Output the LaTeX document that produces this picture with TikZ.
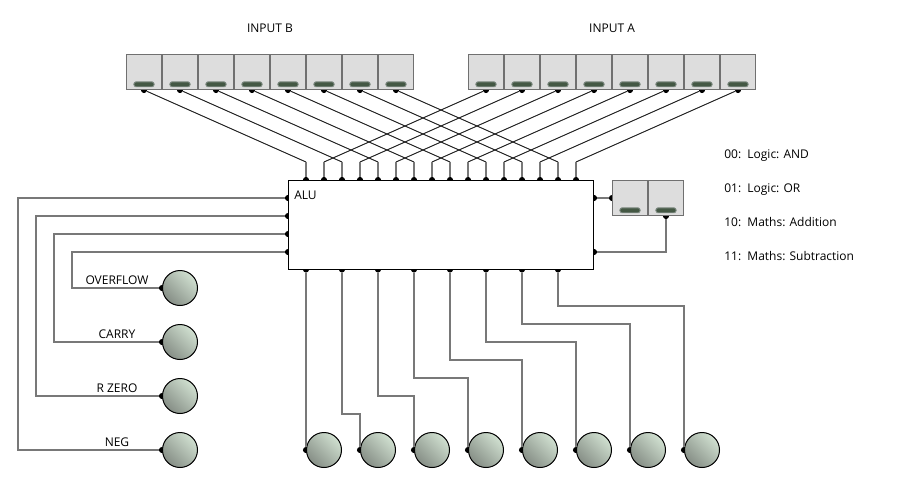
\documentclass[tikz,border=0pt]{standalone}
\usepackage{fontspec}
\setmainfont{Open Sans}
\definecolor{switchgray}{HTML}{DDDDDD}
\definecolor{switchedge}{HTML}{707070}
\definecolor{slotgreen}{HTML}{445844}
\definecolor{slotedge}{HTML}{7E8A82}
\definecolor{ledlight}{HTML}{D0E0D0}
\definecolor{ledmid}{HTML}{BECBBE}
\definecolor{leddark}{HTML}{868E86}
\definecolor{wiregray}{HTML}{787878}

\begin{document}
\begin{tikzpicture}[x=0.75pt,y=-0.75pt]
    % Setup the styles for the parts
        \tikzset{switchbox/.style={rectangle,
                                   minimum width=26.625pt,
                                   minimum height=26.25pt,
                                   inner sep=0pt,
                                   line width=0.75pt,
                                   draw=switchedge,
                                   fill=switchgray},
                 slotbar/.style={rectangle,
                                 rounded corners=1.7pt,
                                 minimum width=15.2pt,
                                 minimum height=3.7pt,
                                 inner sep=0pt,
                                 line width=0.7pt,
                                 draw=slotedge,
                                 fill=slotgreen},
                 lamp/.style={circle,
                              minimum size=26.25pt,
                              inner sep=0pt,
                              line width=0.75pt,
                              draw=black,
                              left color=ledlight,
                              middle color=ledmid,
                              right color=leddark,
                              shading angle=-45},
                 pinhead/.style={circle,
                                 minimum size=4.6pt,
                                 inner sep=0pt,
                                 fill=black},
                 wire/.style={line width=1.1pt,draw=wiregray,line join=miter},
                 slant/.style={line width=0.75pt,draw=black!85},
                 caption/.style={font=\fontsize{9}{11}\selectfont,inner sep=0pt,anchor=base},
                 legend/.style={caption,anchor=base west}}
        \useasboundingbox (0,0) rectangle (900,486);
        % Draw the pins first, the boxes cover half of them
        \foreach \i in {0,...,7} {
            \node[pinhead] at (144+36*\i,90)  (bout\i) {};
            \node[pinhead] at (486+36*\i,90)  (aout\i) {};
            \node[pinhead] at (306+36*\i,180) (bin\i)  {};
            \node[pinhead] at (324+36*\i,180) (ain\i)  {};
            \node[pinhead] at (306+36*\i,269.5) (res\i) {};
            \node[pinhead] at (306+54*\i,450) (lampin\i) {};
        }
        \foreach \i/\y in {0/198,1/216,2/234,3/252} {
            \node[pinhead] at (288,\y) (flag\i) {};
        }
        \foreach \i/\y in {0/450,1/396,2/342,3/288} {
            \node[pinhead] at (162,\y) (flagin\i) {};
        }
        \node[pinhead] at (594,198) (opa) {};
        \node[pinhead] at (594,252) (opb) {};
        \node[pinhead] at (612,198) (modea) {};
        \node[pinhead] at (666,216) (modeb) {};
        % Draw the switches
        \foreach \i in {0,...,7} {
            \node[switchbox] at (144+36*\i,72) (bsw\i) {};
            \node[slotbar] at (144+36*\i,84.3) (bslot\i) {};
            \node[switchbox] at (486+36*\i,72) (asw\i) {};
            \node[slotbar] at (486+36*\i,84.3) (aslot\i) {};
        }
        \node[switchbox] at (630,198) (msw0) {};
        \node[slotbar] at (630,210.3) (mslot0) {};
        \node[switchbox] at (666,198) (msw1) {};
        \node[slotbar] at (666,210.3) (mslot1) {};
        % Draw the ALU and the lamps
        \node[rectangle,draw=black,line width=0.75pt,fill=white,
              minimum width=228.75pt,minimum height=66.75pt,inner sep=0pt]
            at (441,225) (alu) {};
        \foreach \i in {0,...,7} {
            \node[lamp] at (324+54*\i,450) (reslamp\i) {};
        }
        \node[lamp] at (180,288) (overflow) {};
        \node[lamp] at (180,342) (carry) {};
        \node[lamp] at (180,396) (rzero) {};
        \node[lamp] at (180,450) (neg) {};
        % Connect the pins
        \foreach \i in {0,...,7} {
            \draw[slant] (bout\i) -- (306+36*\i,162);
            \draw[wire] (306+36*\i,162) -- (bin\i);
            \draw[slant] (aout\i) -- (324+36*\i,162);
            \draw[wire] (324+36*\i,162) -- (ain\i);
        }
        \draw[wire] (flag0) -- (18,198) -- (18,450) -- (flagin0);
        \draw[wire] (flag1) -- (36,216) -- (36,396) -- (flagin1);
        \draw[wire] (flag2) -- (54,234) -- (54,342) -- (flagin2);
        \draw[wire] (flag3) -- (72,252) -- (72,288) -- (flagin3);
        \draw[wire] (res0) -- (lampin0);
        \draw[wire] (res1) -- (342,414) -- (360,414) -- (lampin1);
        \draw[wire] (res2) -- (378,396) -- (414,396) -- (lampin2);
        \draw[wire] (res3) -- (414,378) -- (468,378) -- (lampin3);
        \draw[wire] (res4) -- (450,360) -- (522,360) -- (lampin4);
        \draw[wire] (res5) -- (486,342) -- (576,342) -- (lampin5);
        \draw[wire] (res6) -- (522,324) -- (630,324) -- (lampin6);
        \draw[wire] (res7) -- (558,306) -- (684,306) -- (lampin7);
        \draw[wire] (opa) -- (modea);
        \draw[wire] (opb) -| (modeb);
        % Draw the labels
        \node[legend] at (294,199) (alutext) {ALU};
        \node[caption] at (270,32) (inputb) {INPUT B};
        \node[caption] at (612,32) (inputa) {INPUT A};
        \node[caption] at (117,284) (overflowtext) {OVERFLOW};
        \node[caption] at (117,338) (carrytext) {CARRY};
        \node[caption] at (117,392) (rzerotext) {R ZERO};
        \node[caption] at (117,446) (negtext) {NEG};
        \node[legend] at (724,158) (mode00) {00:\ \ Logic: AND};
        \node[legend] at (724,192) (mode01) {01:\ \ Logic: OR};
        \node[legend] at (724,226) (mode10) {10:\ \ Maths: Addition};
        \node[legend] at (724,260) (mode11) {11:\ \ Maths: Subtraction};
\end{tikzpicture}
\end{document}
